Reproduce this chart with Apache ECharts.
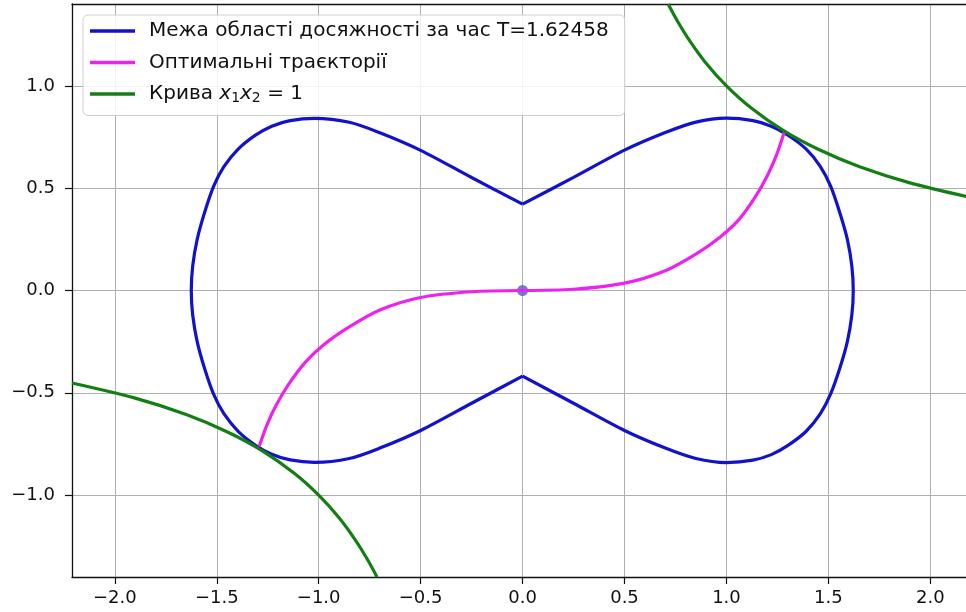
<!DOCTYPE html>
<html>
<head>
<meta charset="utf-8">
<script src="https://cdn.jsdelivr.net/npm/echarts@6.0.0/dist/echarts.min.js"></script>
<style>
  html, body { margin: 0; padding: 0; background: #fff; }
  #chart { width: 966px; height: 612px; }
</style>
</head>
<body>
<div id="chart"></div>
<script>
// межа області досяжності - права петля (верхній касп -> нижній касп)
const rightLoopX = [0, 0.25, 0.5, 0.7, 0.85, 1.0, 1.13, 1.22, 1.3, 1.39, 1.46, 1.51, 1.556, 1.593, 1.615, 1.622,
  1.615, 1.593, 1.556, 1.51, 1.46, 1.39, 1.3, 1.22, 1.13, 1.0, 0.85, 0.7, 0.5, 0.25, 0]
const rightLoopY = [0.422, 0.553, 0.686, 0.772, 0.823, 0.842, 0.830, 0.803, 0.760, 0.692, 0.607, 0.512, 0.38, 0.25, 0.12, 0,
  -0.12, -0.25, -0.38, -0.508, -0.603, -0.689, -0.758, -0.802, -0.829, -0.841, -0.821, -0.770, -0.684, -0.551, -0.418]
// ліва петля (нижній касп -> верхній касп)
const leftLoopX = [0, -0.25, -0.5, -0.7, -0.85, -1.02, -1.14, -1.23, -1.31, -1.395, -1.465, -1.515, -1.56, -1.596, -1.618, -1.625,
  -1.618, -1.596, -1.56, -1.515, -1.465, -1.395, -1.31, -1.23, -1.14, -1.02, -0.85, -0.7, -0.5, -0.25, 0]
const leftLoopY = [-0.418, -0.551, -0.684, -0.770, -0.821, -0.840, -0.828, -0.800, -0.756, -0.688, -0.602, -0.508, -0.38, -0.25, -0.12, 0,
  0.12, 0.25, 0.38, 0.510, 0.605, 0.691, 0.759, 0.803, 0.830, 0.841, 0.822, 0.771, 0.685, 0.552, 0.422]

// оптимальні траєкторії
const trajRightX = [0, 0.25, 0.5, 0.7, 0.85, 0.97, 1.06, 1.14, 1.2, 1.245, 1.283]
const trajRightY = [0, 0.006, 0.036, 0.097, 0.178, 0.262, 0.345, 0.455, 0.56, 0.66, 0.772]
const trajLeftX = [0, -0.25, -0.5, -0.7, -0.85, -0.975, -1.065, -1.147, -1.208, -1.253, -1.292]
const trajLeftY = [0, -0.006, -0.034, -0.095, -0.178, -0.265, -0.35, -0.458, -0.56, -0.655, -0.762]

// крива x1*x2 = 1
const hypRightX = [0.714, 0.76, 0.82, 0.9, 1.0, 1.12, 1.28, 1.45, 1.65, 1.9, 2.18]
const hypRightY = [1.4, 1.316, 1.22, 1.111, 1.0, 0.893, 0.781, 0.69, 0.606, 0.526, 0.459]
const hypLeftX = [-2.21, -1.9, -1.65, -1.45, -1.28, -1.12, -1.0, -0.9, -0.82, -0.76, -0.714]
const hypLeftY = [-0.452, -0.526, -0.606, -0.69, -0.781, -0.893, -1.0, -1.111, -1.22, -1.316, -1.4]

const startX = [0]
const startY = [0]

const xTicks = [-2.0, -1.5, -1.0, -0.5, 0.0, 0.5, 1.0, 1.5, 2.0]
const yTicks = [-1.0, -0.5, 0.0, 0.5, 1.0]

const nameBoundary = 'Межа області досяжності за час T=1.62458'
const nameTraj = 'Оптимальні траєкторії'
const nameHyp = 'Крива x1x2 = 1'

const colorBlue = '#1212cc'
const colorMagenta = '#ee22ee'
const colorGreen = '#137f13'

function zip (xs, ys) {
  return xs.map((x, i) => [x, ys[i]])
}

// формат як у matplotlib: юнікодний мінус, один знак після коми
function tickFmt (v) {
  return (v < 0 ? '\u2212' : '') + Math.abs(v).toFixed(1)
}

const chart = echarts.init(document.getElementById('chart'), null, { renderer: 'canvas' })

function curve (name, data, color, smooth) {
  return {
    name: name,
    type: 'line',
    data: data,
    showSymbol: false,
    symbol: 'none',
    smooth: smooth,
    color: color,
    lineStyle: { color: color, width: 3.2 },
    itemStyle: { color: color },
    animation: false
  }
}

const font = 'DejaVu Sans'

const option = {
  animation: false,
  backgroundColor: '#ffffff',
  textStyle: { fontFamily: font },
  grid: { left: 72, top: 4, right: 0, bottom: 35 },
  xAxis: [
    {
      type: 'value',
      min: -2.21,
      max: 2.175,
      axisLine: { show: true, onZero: false, lineStyle: { color: '#111', width: 1.3 } },
      axisTick: { show: true, length: 7, customValues: xTicks, lineStyle: { color: '#111', width: 1.2 } },
      axisLabel: { customValues: xTicks, formatter: tickFmt, color: '#111', fontSize: 18, fontFamily: font, margin: 12 },
      splitLine: { show: true, lineStyle: { color: '#b0b0b0', width: 1 } }
    },
    {
      type: 'value',
      position: 'top',
      min: -2.21,
      max: 2.175,
      axisLine: { show: true, onZero: false, lineStyle: { color: '#111', width: 1.3 } },
      axisTick: { show: false },
      axisLabel: { show: false },
      splitLine: { show: false }
    }
  ],
  yAxis: {
    type: 'value',
    min: -1.4,
    max: 1.4,
    axisLine: { show: true, onZero: false, lineStyle: { color: '#111', width: 1.3 } },
    axisTick: { show: true, length: 7, customValues: yTicks, lineStyle: { color: '#111', width: 1.2 } },
    axisLabel: { customValues: yTicks, formatter: tickFmt, color: '#111', fontSize: 18, fontFamily: font, margin: 17 },
    splitLine: { show: true, lineStyle: { color: '#b0b0b0', width: 1 } }
  },
  legend: {
    data: [nameBoundary, nameTraj, nameHyp],
    orient: 'vertical',
    left: 83,
    top: 15,
    icon: 'rect',
    itemWidth: 45,
    itemHeight: 3.5,
    itemGap: 11.5,
    padding: [6, 16, 10, 7],
    backgroundColor: 'rgba(255,255,255,0.85)',
    borderColor: '#d0d0d0',
    borderWidth: 1,
    borderRadius: 5,
    selectedMode: false,
    formatter: function (name) {
      if (name === nameHyp) {
        return '{t|Крива }{i|x}{s|1}{i|x}{s|2}{t| = 1}'
      }
      return name
    },
    textStyle: {
      fontFamily: font,
      fontSize: 20,
      color: '#111',
      lineHeight: 20,
      padding: [0, 0, 0, 9],
      rich: {
        t: { fontFamily: font, fontSize: 20, color: '#111' },
        i: { fontFamily: font, fontSize: 20, fontStyle: 'italic', color: '#111' },
        s: { fontFamily: font, fontSize: 14, color: '#111', padding: [9, 0, 0, 0] }
      }
    }
  },
  series: [
    curve(nameBoundary, zip(rightLoopX, rightLoopY), colorBlue, 0.3),
    curve(nameBoundary, zip(leftLoopX, leftLoopY), colorBlue, 0.3),
    {
      type: 'scatter',
      data: zip(startX, startY),
      symbolSize: 11,
      itemStyle: { color: '#4f5fc4' },
      animation: false
    },
    curve(nameTraj, zip(trajRightX, trajRightY), colorMagenta, 0.3),
    curve(nameTraj, zip(trajLeftX, trajLeftY), colorMagenta, 0.3),
    curve(nameHyp, zip(hypRightX, hypRightY), colorGreen, 0.3),
    curve(nameHyp, zip(hypLeftX, hypLeftY), colorGreen, 0.3)
  ]
}

chart.setOption(option)
</script>
</body>
</html>
